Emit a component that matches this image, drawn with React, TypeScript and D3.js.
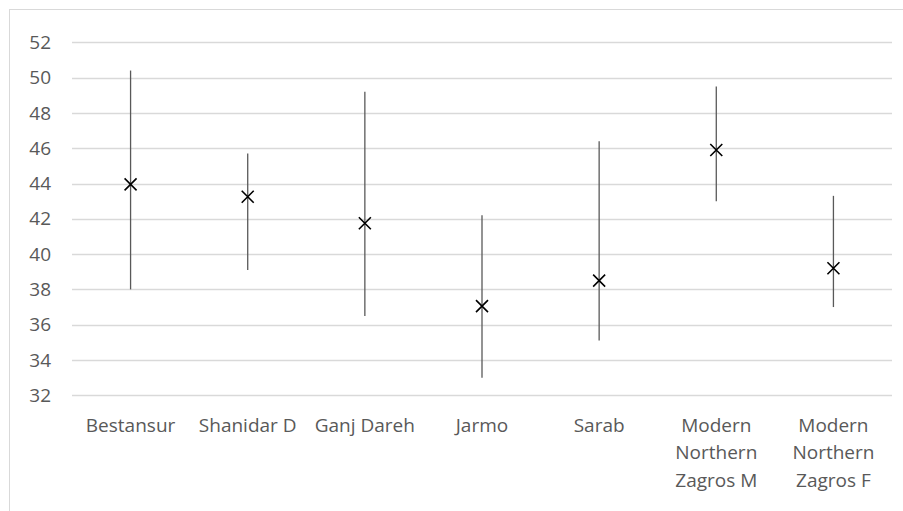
import React, { useEffect, useRef } from 'react';
import * as d3 from 'd3';

const categories = [
  'Bestansur',
  'Shanidar D',
  'Ganj Dareh',
  'Jarmo',
  'Sarab',
  'Modern Northern Zagros M',
  'Modern Northern Zagros F',
];
const tickLabels = [
  ['Bestansur'],
  ['Shanidar D'],
  ['Ganj Dareh'],
  ['Jarmo'],
  ['Sarab'],
  ['Modern', 'Northern', 'Zagros M'],
  ['Modern', 'Northern', 'Zagros F'],
];
const means = [43.95, 43.25, 41.75, 37.05, 38.5, 45.9, 39.2];
const highs = [50.4, 45.7, 49.2, 42.2, 46.4, 49.5, 43.3];
const lows = [38.0, 39.1, 36.5, 33.0, 35.1, 43.0, 37.0];
const yTicks = [32, 34, 36, 38, 40, 42, 44, 46, 48, 50, 52];

const W = 903;
const H = 511;
const FONT = '"Open Sans", sans-serif';

const App: React.FC = () => {
  const svgRef = useRef<SVGSVGElement>(null);

  useEffect(() => {
    if (!svgRef.current) return;
    const svg = d3.select(svgRef.current);
    svg.selectAll('*').remove();

    const x = d3.scaleBand<string>().domain(categories).range([72, 892]).padding(0);
    const y = d3.scaleLinear().domain([32, 52]).range([395.3, 42.3]);
    const cx = (i: number) => (x(categories[i]) || 0) + x.bandwidth() / 2;

    svg
      .append('rect')
      .attr('x', 9.5)
      .attr('y', 9.5)
      .attr('width', 905)
      .attr('height', 520)
      .attr('fill', '#fff')
      .attr('stroke', '#d9d9d9');

    // gridlines
    svg
      .append('g')
      .selectAll('line')
      .data(yTicks)
      .enter()
      .append('line')
      .attr('x1', 72)
      .attr('x2', 892)
      .attr('y1', (d) => Math.round(y(d)) + 0.5)
      .attr('y2', (d) => Math.round(y(d)) + 0.5)
      .attr('stroke', '#d9d9d9')
      .attr('stroke-width', 1.3);

    // y labels
    svg
      .append('g')
      .selectAll('text')
      .data(yTicks)
      .enter()
      .append('text')
      .attr('x', 51)
      .attr('y', (d) => y(d))
      .attr('dy', '0.35em')
      .attr('text-anchor', 'end')
      .attr('font-family', FONT)
      .attr('font-size', 19)
      .attr('fill', '#595959')
      .text((d) => d);

    // x labels
    const xl = svg
      .append('g')
      .selectAll('text')
      .data(tickLabels)
      .enter()
      .append('text')
      .attr('text-anchor', 'middle')
      .attr('font-family', FONT)
      .attr('font-size', 19)
      .attr('fill', '#595959');
    xl.each(function (lines, i) {
      const t = d3.select(this);
      lines.forEach((ln, j) => {
        t.append('tspan')
          .attr('x', cx(i))
          .attr('y', 431.5 + j * 27.7)
          .text(ln);
      });
    });

    // error bars
    svg
      .append('g')
      .selectAll('line')
      .data(categories)
      .enter()
      .append('line')
      .attr('x1', (_, i) => cx(i))
      .attr('x2', (_, i) => cx(i))
      .attr('y1', (_, i) => y(highs[i]))
      .attr('y2', (_, i) => y(lows[i]))
      .attr('stroke', '#595959')
      .attr('stroke-width', 1.3);

    // x markers
    const s = 6;
    svg
      .append('g')
      .selectAll('path')
      .data(categories)
      .enter()
      .append('path')
      .attr('d', (_, i) => {
        const px = cx(i);
        const py = y(means[i]);
        return `M${px - s},${py - s}L${px + s},${py + s}M${px - s},${py + s}L${px + s},${py - s}`;
      })
      .attr('stroke', '#000')
      .attr('stroke-width', 1.6)
      .attr('fill', 'none');
  }, []);

  return (
    <svg
      ref={svgRef}
      width={W}
      height={H}
      style={{ position: 'fixed', left: 0, top: 0, background: '#fff' }}
    ></svg>
  );
};

export default App;
